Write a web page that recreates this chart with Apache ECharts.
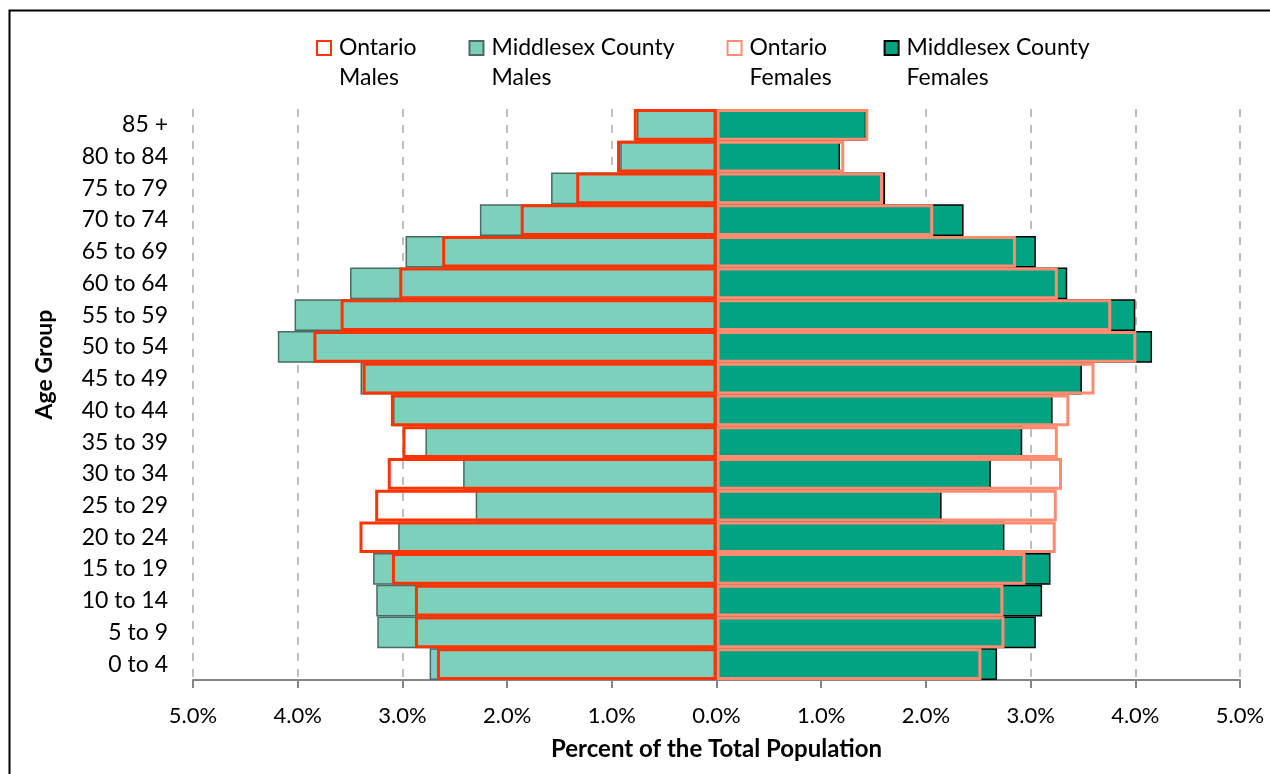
<!DOCTYPE html>
<html>
<head>
<meta charset="utf-8">
<title>Population pyramid</title>
<script src="https://cdn.jsdelivr.net/npm/echarts@6/dist/echarts.min.js"></script>
<style>
  html, body { margin: 0; padding: 0; background: #fff; }
  #chart { width: 1270px; height: 774px; }
</style>
</head>
<body>
<div id="chart"></div>
<script>
// age groups, bottom to top
const ageGroups = ["0 to 4", "5 to 9", "10 to 14", "15 to 19", "20 to 24", "25 to 29",
  "30 to 34", "35 to 39", "40 to 44", "45 to 49", "50 to 54", "55 to 59",
  "60 to 64", "65 to 69", "70 to 74", "75 to 79", "80 to 84", "85 +"];

// percent of total population
const ontarioMales = [2.67, 2.88, 2.88, 3.10, 3.41, 3.26, 3.14, 3.00, 3.11, 3.38,
  3.85, 3.59, 3.03, 2.62, 1.87, 1.34, 0.95, 0.79];
const middlesexMales = [2.74, 3.24, 3.25, 3.28, 3.04, 2.30, 2.42, 2.78, 3.09, 3.40,
  4.19, 4.03, 3.50, 2.97, 2.26, 1.58, 0.92, 0.76];
const ontarioFemales = [2.53, 2.75, 2.74, 2.95, 3.24, 3.25, 3.30, 3.26, 3.37, 3.61,
  4.01, 3.77, 3.26, 2.86, 2.07, 1.59, 1.22, 1.45];
const middlesexFemales = [2.68, 3.05, 3.11, 3.19, 2.75, 2.15, 2.62, 2.92, 3.21, 3.49,
  4.16, 4.00, 3.35, 3.05, 2.36, 1.61, 1.18, 1.43];

const xTicks = { min: -5, max: 5, step: 1 };

const font = "Lato, 'Open Sans', sans-serif";
const chart = echarts.init(document.getElementById("chart"));

function bar(name, data, fill, stroke, width, z) {
  return {
    name: name,
    type: "bar",
    data: data,
    barGap: "-100%",
    barCategoryGap: "0%",
    z: z,
    itemStyle: { color: fill, borderColor: stroke, borderWidth: width },
    emphasis: { disabled: true }
  };
}

// square sitting at the top of a taller icon box, so it lines up with the first text line
const legendIcon = "path://M0,0L14,0L14,14L0,14Z M0,44";

chart.setOption({
  animation: false,
  textStyle: { fontFamily: font },
  graphic: [{
    type: "rect",
    shape: { x: 9.5, y: 10.5, width: 1300, height: 800 },
    style: { fill: "none", stroke: "#000", lineWidth: 2 },
    silent: true
  }],
  legend: {
    left: 311,
    top: 28,
    itemWidth: 14,
    itemHeight: 44,
    itemGap: 52,
    icon: legendIcon,
    data: ["Ontario\nMales", "Middlesex County\nMales", "Ontario\nFemales", "Middlesex County\nFemales"],
    textStyle: { fontSize: 23, color: "#000", lineHeight: 30, padding: [0, 0, 0, 3] }
  },
  grid: { left: 193, right: 30, top: 109, bottom: 94 },
  xAxis: {
    type: "value",
    min: xTicks.min,
    max: xTicks.max,
    interval: xTicks.step,
    name: "Percent of the Total Population",
    nameLocation: "middle",
    nameGap: 57,
    nameTextStyle: { fontSize: 24, fontWeight: "bold", color: "#000" },
    axisLine: { show: true, lineStyle: { color: "#868686", width: 2 } },
    axisTick: { show: true, inside: false, length: 8, lineStyle: { color: "#868686", width: 2 } },
    axisLabel: {
      fontSize: 22, color: "#000", margin: 25,
      formatter: v => Math.abs(v).toFixed(1) + "%"
    },
    splitLine: { show: true, lineStyle: { color: "#bfbfbf", type: [8, 8], width: 2 } }
  },
  yAxis: {
    type: "category",
    data: ageGroups,
    name: "Age Group",
    nameLocation: "middle",
    nameRotate: 90,
    nameGap: 137,
    nameTextStyle: { fontSize: 23, fontWeight: "bold", color: "#000", padding: [0, 0, 0, 60] },
    axisLine: { show: false },
    axisTick: { show: false },
    axisLabel: { fontSize: 23, color: "#000", margin: 25 }
  },
  series: [
    bar("Middlesex County\nMales", middlesexMales.map(v => -v), "#7dd0bb", "#4a6b64", 1.5, 2),
    bar("Middlesex County\nFemales", middlesexFemales, "#00a482", "#000", 1.5, 2),
    bar("Ontario\nMales", ontarioMales.map(v => -v), "rgba(0,0,0,0)", "#ff3300", 3, 4),
    bar("Ontario\nFemales", ontarioFemales, "rgba(0,0,0,0)", "#ff8c70", 3, 3)
  ]
});
</script>
</body>
</html>
